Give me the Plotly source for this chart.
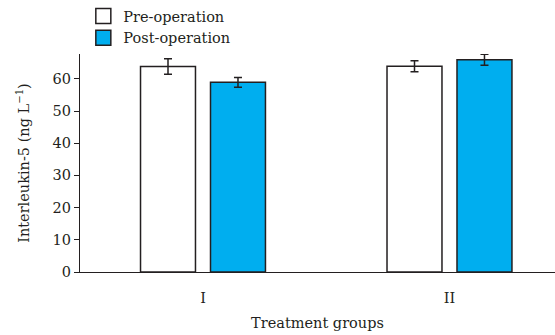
import plotly.graph_objects as go

groups = ["I", "II"]
group_pos = [0, 1]
pre_values = [63.8, 63.9]
pre_errors = [2.4, 1.7]
post_values = [58.9, 65.9]
post_errors = [1.5, 1.7]

font_color = "#231f20"
edge = "#231f20"
blue = "#00aeef"
FONT = "DejaVu Serif"
FS = 14.5

fig = go.Figure()
fig.add_trace(go.Bar(
    x=group_pos, y=pre_values, name="Pre-operation", showlegend=False,
    width=0.223, offset=-0.2535,
    marker=dict(color="white", line=dict(color=edge, width=1.5)),
    error_y=dict(type="data", array=pre_errors, color=edge, thickness=1.5, width=4),
))
fig.add_trace(go.Bar(
    x=group_pos, y=post_values, name="Post-operation", showlegend=False,
    width=0.223, offset=0.0304,
    marker=dict(color=blue, line=dict(color=edge, width=1.5)),
    error_y=dict(type="data", array=post_errors, color=edge, thickness=1.5, width=4),
))
# legend entries
for name, col in [("Pre-operation", "white"), ("Post-operation", blue)]:
    fig.add_trace(go.Scatter(
        x=[None], y=[None], mode="markers", name=name,
        marker=dict(symbol="square", size=15, color=col, line=dict(color=edge, width=1.5)),
    ))

fig.update_layout(
    width=555, height=335,
    margin=dict(l=80, r=0, t=52, b=63),
    paper_bgcolor="white", plot_bgcolor="white",
    font=dict(family=FONT, size=FS, color=font_color),
    showlegend=True,
    legend=dict(x=0.007, xanchor="left", y=1.25, yanchor="top",
                bgcolor="rgba(0,0,0,0)", font=dict(family=FONT, size=FS),
                tracegroupgap=0, itemwidth=30),
    xaxis=dict(
        range=[-0.499, 1.428], tickvals=group_pos, ticktext=groups,
        showline=True, linecolor=edge, linewidth=1.2,
        ticks="outside", ticklen=12, tickcolor="rgba(0,0,0,0)",
        showgrid=False, zeroline=False,
        title=dict(text="Treatment groups", standoff=13, font=dict(size=FS)),
    ),
    yaxis=dict(
        range=[0, 67.7], tickvals=[0, 10, 20, 30, 40, 50, 60],
        showline=True, linecolor=edge, linewidth=1.2,
        ticks="outside", ticklen=5, tickwidth=1.2, tickcolor=edge,
        showgrid=False, zeroline=False,
        title=dict(text="Interleukin-5 (ng L<sup>\u22121</sup>)", standoff=19, font=dict(size=FS)),
    ),
)

fig.write_html("out.html", config={"displayModeBar": False},
               post_script="document.body.style.margin='0';")
